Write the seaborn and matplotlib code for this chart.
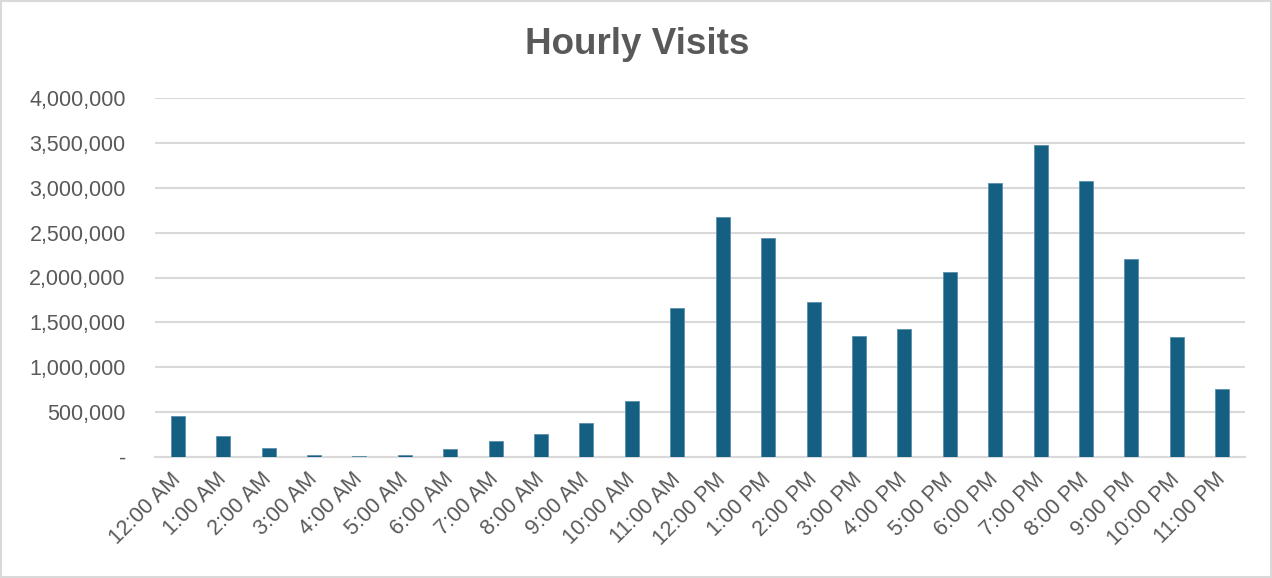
import pandas as pd
import seaborn as sns
import matplotlib.pyplot as plt
from matplotlib.ticker import FuncFormatter
from matplotlib.patches import Rectangle

hours = [
    "12:00 AM", "1:00 AM", "2:00 AM", "3:00 AM", "4:00 AM", "5:00 AM",
    "6:00 AM", "7:00 AM", "8:00 AM", "9:00 AM", "10:00 AM", "11:00 AM",
    "12:00 PM", "1:00 PM", "2:00 PM", "3:00 PM", "4:00 PM", "5:00 PM",
    "6:00 PM", "7:00 PM", "8:00 PM", "9:00 PM", "10:00 PM", "11:00 PM",
]
visits = [
    455000, 237000, 105000, 19000, 8000, 20000,
    86000, 177000, 259000, 380000, 622000, 1657000,
    2673000, 2439000, 1724000, 1351000, 1430000, 2059000,
    3053000, 3477000, 3079000, 2211000, 1333000, 763000,
]
y_ticks = [0, 500000, 1000000, 1500000, 2000000, 2500000, 3000000, 3500000, 4000000]

df = pd.DataFrame({"hour": hours, "visits": visits})

sns.set_style("white")
plt.rcParams["font.family"] = ["Liberation Sans", "DejaVu Sans"]

text_color = "#595959"
grid_color = "#D9D9D9"

fig = plt.figure(figsize=(12.72, 5.78), dpi=100)
ax = fig.add_axes([155 / 1272, 1 - 457 / 578, 1090 / 1272, 359 / 578])

sns.barplot(data=df, x="hour", y="visits", order=hours, color="#156082",
            width=0.31, saturation=1, edgecolor="#5a8fab", linewidth=0.6,
            ax=ax, zorder=3)

ax.set_xlim(-0.5, len(hours) - 0.5)
ax.set_ylim(0, 4000000)
ax.set_yticks(y_ticks)
ax.yaxis.set_major_formatter(
    FuncFormatter(lambda v, p: "-" if v == 0 else f"{v:,.0f}"))
ax.grid(axis="y", color=grid_color, linewidth=1.5, zorder=0)
ax.set_axisbelow(True)
for s in ["top", "right", "left"]:
    ax.spines[s].set_visible(False)
ax.spines["bottom"].set_color(grid_color)
ax.spines["bottom"].set_linewidth(1.5)

ax.set_xlabel("")
ax.set_ylabel("")
ax.tick_params(axis="y", length=0, pad=21, labelsize=15.5, labelcolor=text_color)
ax.tick_params(axis="x", length=0, pad=14, labelsize=15.5, labelcolor=text_color)
for lbl in ax.get_xticklabels():
    lbl.set_rotation(45)
    lbl.set_ha("right")
    lbl.set_va("center")
    lbl.set_rotation_mode("anchor")

fig.text(637 / 1272, 1 - 45 / 578, "Hourly Visits", ha="center", va="center",
         fontsize=26.5, fontweight="bold", color=text_color)

fig.patches.append(Rectangle((0.001, 0.001), 0.998, 0.997, transform=fig.transFigure,
                             fill=False, edgecolor=grid_color, linewidth=1.5))

fig.savefig("out.png", dpi=100, facecolor="white")
